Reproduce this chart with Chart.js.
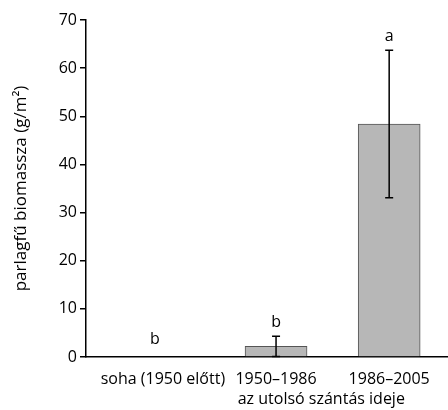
<!DOCTYPE html>
<html>
<head>
<meta charset="utf-8">
<script src="https://cdn.jsdelivr.net/npm/chart.js@4"></script>
<style>
  html, body { margin: 0; padding: 0; background: #fff; }
  #wrap { width: 448px; height: 410px; }
</style>
</head>
<body>
<div id="wrap"><canvas id="biomass"></canvas></div>
<script>
var categories = ["soha (1950 előtt)", "1950–1986", "1986–2005"];
var means = [0, 2.2, 48.4];
var errors = [0, 2.1, 15.3];
var letters = ["b", "b", "a"];
var yTicks = [0, 10, 20, 30, 40, 50, 60, 70];

var FONT = "'Open Sans', sans-serif";
var FS = 16;

// error bars + significance letters drawn through the scales
var errorBars = {
  id: 'errorBars',
  afterDatasetsDraw: function(chart) {
    var ctx = chart.ctx;
    var xs = chart.scales.x, ys = chart.scales.y;
    ctx.save();
    ctx.strokeStyle = '#000';
    ctx.lineWidth = 1.5;
    for (var i = 0; i < means.length; i++) {
      var px = xs.getPixelForValue(i);
      var top = means[i] + errors[i];
      if (errors[i] > 0) {
        var lo = ys.getPixelForValue(Math.max(0, means[i] - errors[i]));
        var hi = ys.getPixelForValue(top);
        ctx.beginPath();
        ctx.moveTo(px, lo); ctx.lineTo(px, hi);
        ctx.moveTo(px - 4, hi); ctx.lineTo(px + 4, hi);
        if (means[i] - errors[i] > 0) {
          ctx.moveTo(px - 4, lo); ctx.lineTo(px + 4, lo);
        }
        ctx.stroke();
      }
      ctx.fillStyle = '#000';
      ctx.font = FS + 'px ' + FONT;
      ctx.textAlign = 'center';
      ctx.textBaseline = 'bottom';
      ctx.fillText(letters[i], px - (i === 0 ? 8 : 0), ys.getPixelForValue(top) - (errors[i] > 0 ? 6 : 10));
    }
    // x axis title
    ctx.textBaseline = 'alphabetic';
    ctx.fillText('az utolsó szántás ideje', xs.getPixelForValue(1.4), 404);
    ctx.restore();
  }
};

new Chart(document.getElementById('biomass'), {
  type: 'bar',
  data: {
    datasets: [{
      data: means.map(function(v, i) { return { x: i, y: v }; }),
      backgroundColor: '#b7b7b7',
      borderColor: '#555',
      borderWidth: 1,
      barThickness: 62
    }]
  },
  options: {
    responsive: true,
    maintainAspectRatio: false,
    animation: false,
    layout: { padding: { top: 20, right: 0, bottom: 0, left: 0 } },
    plugins: { legend: { display: false }, tooltip: { enabled: false } },
    scales: {
      x: {
        type: 'linear',
        offset: false,
        min: -0.68,
        max: 2.52,
        afterBuildTicks: function(scale) {
          scale.ticks = categories.map(function(c, i) { return { value: i }; });
        },
        afterFit: function(scale) { scale.height = 53; },
        grid: { display: false },
        border: { color: '#000', width: 1.5 },
        ticks: {
          color: '#000',
          font: { family: FONT, size: FS },
          padding: 5,
          maxRotation: 0,
          autoSkip: false,
          callback: function(v) { return categories[v]; }
        }
      },
      y: {
        min: 0,
        max: 70,
        afterBuildTicks: function(scale) {
          scale.ticks = yTicks.map(function(v) { return { value: v }; });
        },
        afterFit: function(scale) { scale.width = 86; },
        grid: { drawOnChartArea: false, tickLength: 6, color: '#000', lineWidth: 1.5 },
        border: { color: '#000', width: 1.5 },
        ticks: {
          color: '#000',
          font: { family: FONT, size: FS },
          padding: 3
        },
        title: {
          display: true,
          text: 'parlagfű biomassza (g/m²)',
          color: '#000',
          font: { family: FONT, size: FS + 1 },
          padding: { top: 11, bottom: 0 }
        }
      }
    }
  },
  plugins: [errorBars]
});
</script>
</body>
</html>
